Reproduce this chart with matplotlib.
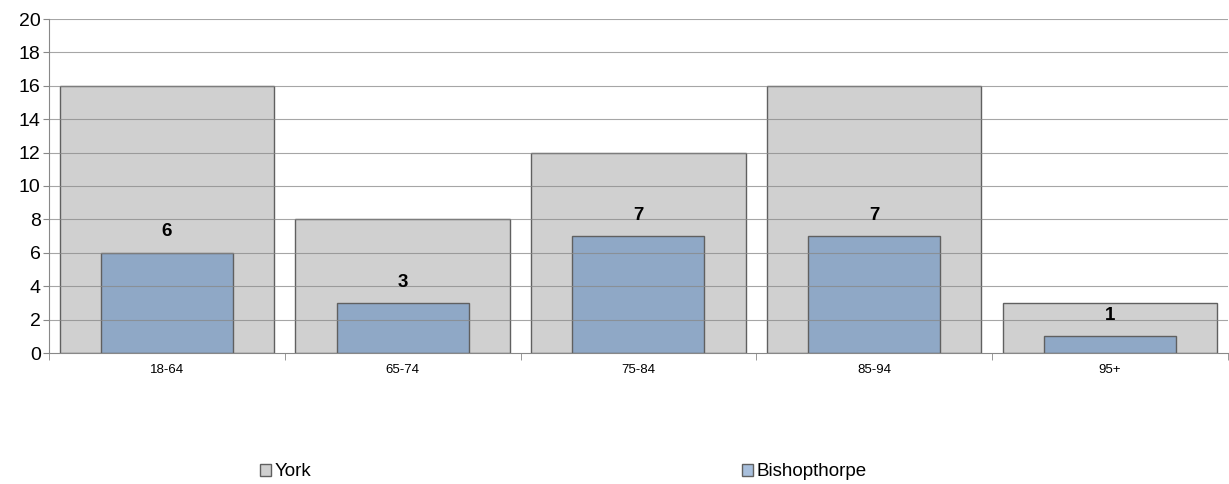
import numpy as np
import matplotlib.pyplot as plt
from matplotlib.patches import Patch

plt.rcParams['font.family'] = ['Liberation Sans', 'DejaVu Sans']

categorias = ['18-64', '65-74', '75-84', '85-94', '95+']
york = [16, 8, 12, 16, 3]
bishopthorpe = [6, 3, 7, 7, 1]

cor_york = '#d0d0d0'
cor_bish = '#8fa8c6'
borda = '#606060'

fig = plt.figure(figsize=(12.29, 4.84), dpi=100)
ax = fig.add_axes([49 / 1229, 1 - 353 / 484, 1 - 49 / 1229 - 0.001, (353 - 19) / 484])

x = np.arange(len(categorias))
ax.bar(x, york, width=0.91, color=cor_york, edgecolor=borda, linewidth=1.0, zorder=1)
ax.bar(x, bishopthorpe, width=0.56, color=cor_bish, edgecolor=borda, linewidth=1.0, zorder=2)

# grade por cima das barras, como no original
for yv in range(2, 21, 2):
    ax.axhline(yv, color='#888888', lw=0.8, alpha=0.75, zorder=3)

for xi, v in zip(x, bishopthorpe):
    ax.text(xi, v + 1.25, str(v), ha='center', va='center', fontsize=13.5,
            fontweight='bold', zorder=4)

ax.set_xlim(-0.5, len(categorias) - 0.5)
ax.set_ylim(0, 20)
ax.set_yticks(range(0, 21, 2))
ax.tick_params(axis='y', labelsize=14, length=4, color='#888888', pad=2)
ax.set_xticks(x)
ax.set_xticklabels(categorias, fontsize=9.5)
ax.tick_params(axis='x', length=0, pad=8)
ax.set_xticks(np.arange(-0.5, len(categorias), 1), minor=True)
ax.tick_params(axis='x', which='minor', length=5, color='#888888')

for lado in ['top', 'right']:
    ax.spines[lado].set_visible(False)
for lado in ['left', 'bottom']:
    ax.spines[lado].set_color('#888888')

h1 = Patch(facecolor=cor_york, edgecolor=borda, label='York')
h2 = Patch(facecolor='#a8bfdc', edgecolor=borda, label='Bishopthorpe')
leg_kw = dict(frameon=False, fontsize=13.5, handlelength=0.55, handleheight=0.55,
              handletextpad=0.2, borderpad=0, loc='center left')
l1 = fig.legend(handles=[h1], bbox_to_anchor=(251 / 1229, 1 - 472 / 484), **leg_kw)
l2 = fig.legend(handles=[h2], bbox_to_anchor=(733 / 1229, 1 - 472 / 484), **leg_kw)

fig.savefig('out.png', dpi=100)
